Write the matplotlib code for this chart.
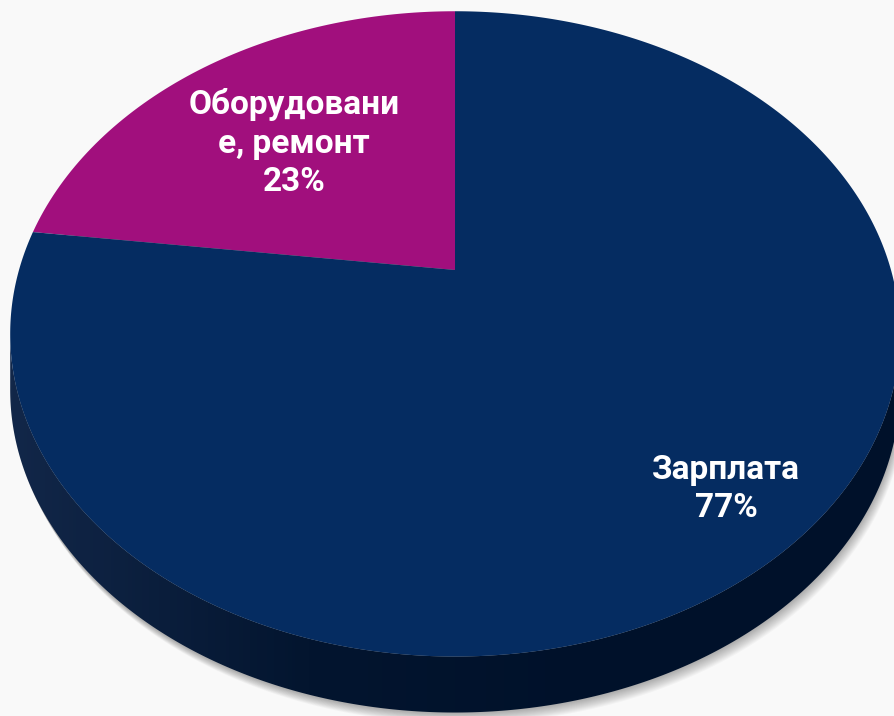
import numpy as np
import matplotlib
matplotlib.use('Agg')
import matplotlib.pyplot as plt
from matplotlib.path import Path
from matplotlib.transforms import Transform
from matplotlib.patches import Polygon
from matplotlib.colors import LinearSegmentedColormap

# data
labels = ['Оборудовани\nе, ремонт', 'Зарплата']
shares = [23, 77]
colors = ['#a10f7d', '#052c61']
label_xy = [(294, 143), (726, 489)]  # label centres, pixels

# view of the tilted pie (pixels)
CX, CY = 455, 270
SX, SY = 436, 310
K = 0.198
DEPTH = 56


class Persp(Transform):
    """unit-circle pie coords -> pixel coords, seen in perspective"""
    input_dims = 2
    output_dims = 2
    is_separable = False
    has_inverse = False

    def __init__(self, dy=0.0, dx=0.0):
        super().__init__()
        self.dy = dy
        self.dx = dx

    def transform_non_affine(self, xy):
        xy = np.asarray(xy, dtype=float)
        d = 1 + K * xy[:, 1]
        return np.column_stack([CX + self.dx + SX * xy[:, 0] / d,
                                CY + self.dy - SY * xy[:, 1] / d])

    def transform_path_non_affine(self, path):
        # flatten the bezier arcs before bending them
        pts = [seg(np.linspace(0, 1, 40)) for seg, _ in path.iter_bezier()]
        verts = np.concatenate(pts)
        return Path(self.transform_non_affine(verts))


fig = plt.figure(figsize=(8.95, 7.16), dpi=100)
fig.patch.set_facecolor('#f9f9f9')
ax = fig.add_axes([0, 0, 1, 1])
ax.set_facecolor('#f9f9f9')

wedges, _ = ax.pie(shares, colors=colors, startangle=90, counterclock=True)
for w in wedges:
    w.set_transform(Persp() + ax.transData)
    w.set_zorder(3)
    w.set_clip_on(False)

# rim of the pie
t = np.linspace(np.pi + np.arcsin(K), 2 * np.pi - np.arcsin(K), 300)
circ = np.column_stack([np.cos(t), np.sin(t)])
top = Persp().transform(circ)
bot = Persp(DEPTH).transform(circ)

# soft shadow under the pie
tt = np.linspace(0, 2 * np.pi, 400)
full = np.column_stack([np.cos(tt), np.sin(tt)])
for i in range(12):
    sh = Persp(DEPTH + 1 + i * 0.9, i * 0.5).transform(full)
    ax.add_patch(Polygon(sh, closed=True, facecolor='black', edgecolor='none',
                         alpha=0.028, zorder=1))

side = Polygon(np.vstack([top, bot[::-1]]), closed=True, facecolor='none',
               edgecolor='none', zorder=2)
ax.add_patch(side)
cmap = LinearSegmentedColormap.from_list('side', ['#122749', '#03152f', '#00112a', '#00112a'])
im = ax.imshow(np.linspace(0, 1, 256).reshape(1, -1), cmap=cmap, aspect='auto',
               extent=(10, 900, 716, 0), zorder=2)
im.set_clip_path(side)

for (x, y), lab, v in zip(label_xy, labels, shares):
    ax.text(x, y, f'{lab}\n{v}%', ha='center', va='center', color='white',
            fontsize=24, fontweight='bold', linespacing=1.25,
            family=['Roboto', 'DejaVu Sans'], zorder=4)

ax.set_xlim(0, 895)
ax.set_ylim(716, 0)
ax.set_aspect('auto')
ax.axis('off')

fig.savefig('out.png', dpi=100, facecolor=fig.get_facecolor())
